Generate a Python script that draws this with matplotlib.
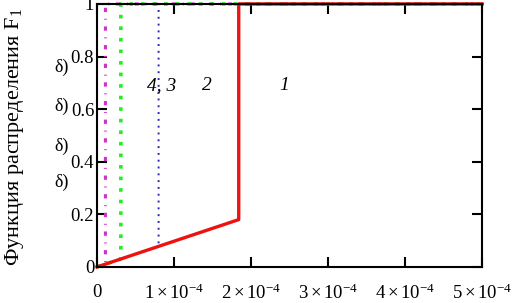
import matplotlib
matplotlib.use("Agg")
import matplotlib.pyplot as plt

plt.rcParams['font.family'] = ['Liberation Serif', 'DejaVu Serif']
plt.rcParams['mathtext.fontset'] = 'custom'
plt.rcParams['mathtext.rm'] = 'Liberation Serif'
plt.rcParams['mathtext.it'] = 'Liberation Serif:italic'

# точки скачка функции распределения для кривых 1..4
x_jump = [1.84e-4, 0.80e-4, 0.31e-4, 0.11e-4]
f_jump = [0.18, 0.078, 0.03, 0.011]
x_max = 5e-4

colors = ['#ee1111', '#2a2ab0', '#22ee22', '#cc33cc']
styles = [dict(ls='-', lw=2.4),
          dict(ls=(0, (1, 2.5)), lw=1.4),
          dict(ls=(0, (1, 2.2)), lw=2.6),
          dict(ls=(0, (1.4, 2.2, 0.3, 2.2)), lw=2.2)]

xticks = [0, 1e-4, 2e-4, 3e-4, 4e-4, 5e-4]
xticklabels = ['0', r'$1\times10^{-4}$', r'$2\times10^{-4}$', r'$3\times10^{-4}$',
               r'$4\times10^{-4}$', r'$5\times10^{-4}$']
yticks = [0, 0.2, 0.4, 0.6, 0.8, 1]
yticklabels = ['0', '0.2', '0.4', '0.6', '0.8', '1']

fig = plt.figure(figsize=(5.13, 3.03), dpi=100)
ax = fig.add_axes([0.189, 0.119, 0.751, 0.868])

# рисуем от 4 к 1, красная сверху
for i in [3, 2, 1, 0]:
    xs = [0, x_jump[i], x_jump[i], x_max]
    ys = [0, f_jump[i], 1, 1]
    ax.plot(xs, ys, color=colors[i], clip_on=False, **styles[i])

ax.set_xlim(0, x_max)
ax.set_ylim(0, 1)
ax.set_xticks(xticks)
ax.set_xticklabels(xticklabels, fontsize=13.5)
ax.set_yticks(yticks)
ax.set_yticklabels(yticklabels, fontsize=13.5)
ax.tick_params(direction='in', length=7, width=1.5, top=True, right=True, pad=12)
ax.tick_params(axis='y', pad=2)
for s in ax.spines.values():
    s.set_linewidth(1.5)

ax.set_ylabel('Функция распределения F$_1$', fontsize=16)
ax.yaxis.set_label_coords(-0.183, 0.495)

# номера кривых
ax.text(0.84e-4, 0.69, '4, 3', fontsize=14, style='italic', ha='center', va='center')
ax.text(1.43e-4, 0.69, '2', fontsize=14, style='italic', ha='center', va='center')
ax.text(2.43e-4, 0.69, '1', fontsize=14, style='italic', ha='center', va='center')

# обрезанные подписи слева
for yy in [0.76, 0.61, 0.46, 0.32]:
    ax.text(-0.455e-4, yy, 'δ)', fontsize=13, ha='center', va='center', clip_on=False)

fig.savefig('out.png', dpi=100)
